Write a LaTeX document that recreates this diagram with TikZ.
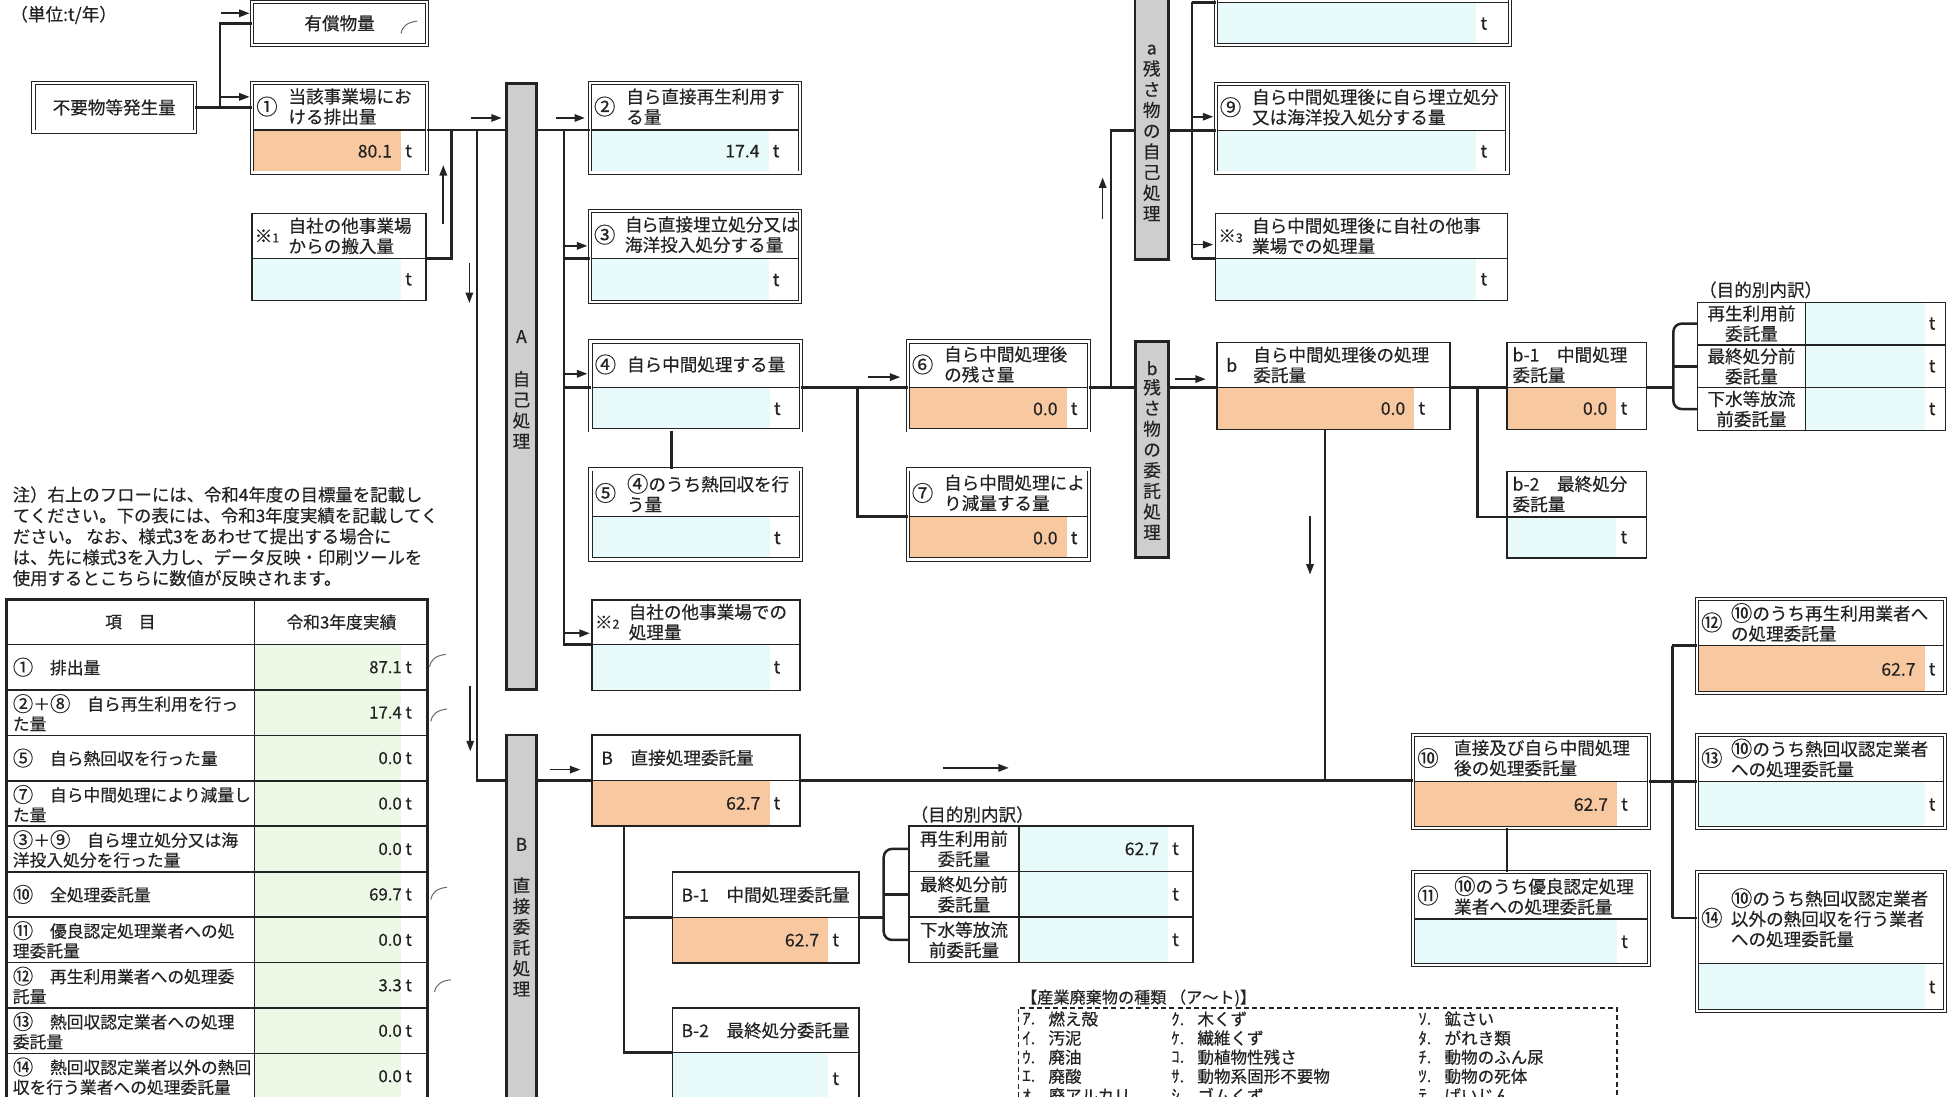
\documentclass[tikz,border=0pt]{standalone}
\usepackage{fontspec}
\setmainfont{Noto Sans CJK JP}[FakeBold=0.4]
\usetikzlibrary{arrows.meta}
\usetikzlibrary{calc, fit}
\definecolor{linie}{RGB}{35,35,35}
\definecolor{orangefill}{RGB}{248,201,161}
\definecolor{cyanfill}{RGB}{232,250,250}
\definecolor{gruenfill}{RGB}{237,248,231}
\definecolor{balken}{RGB}{206,206,206}
\definecolor{haken}{RGB}{110,110,110}

% box: name, frame, x1, y1, x2, y2, split, fill right, fill colour
\newcommand{\qbox}[9]{%
  \fill[#9] (#3,#7) rectangle (#8,#6);
  \draw[splitline] (#3,#7) -- (#5,#7);
  \node[#2, fit={(#3,#4) (#5,#6)}] (#1) {};
  \coordinate (#1-l) at (#3,#7);
  \coordinate (#1-r) at (#5,#7);
  \coordinate (#1-h) at ($(#3,#4)!0.5!(#3,#7)$);
  \coordinate (#1-v) at ($(#8,#7)!0.5!(#8,#6)$);
  \node[unit] at ($(#1-v)+(6,0)$) {t};
}
\newcommand{\qhead}[4][29]{%
  \node[inner sep=0pt] at ($(#2-h)+(12,0)$) {#3};
  \node[hdr, anchor=west] at ($(#2-h)+(#1,0)$) {#4};
}
\newcommand{\qval}[2]{\node[val] at ($(#1-v)+(-7,0)$) {#2};}
\newcommand{\kome}[1]{※{\fontsize{6}{6}\selectfont #1}}
\newcommand{\cn}[1]{\raisebox{-0.06em}{\scalebox{1.22}{#1}}}
\newcommand{\hakenmark}[2]{\draw[haken, line width=0.5pt] (#1,#2) .. controls ({#1+1},{#2-6}) and ({#1+5},{#2-9}) .. ({#1+13},{#2-10});}
% breakdown table: name, x1, y1, xm, x2, y2, fill right
\newcommand{\bdtab}[7]{%
  \pgfmathsetmacro\rh{(#6-#3)/3}
  \fill[cyanfill] (#4,#3) rectangle (#7,#6);
  \draw[splitline] (#2,{#3+\rh}) -- (#5,{#3+\rh});
  \draw[splitline] (#2,{#3+2*\rh}) -- (#5,{#3+2*\rh});
  \draw[splitline] (#4,#3) -- (#4,#6);
  \draw[splitline] (#2,#3) rectangle (#5,#6);
  \coordinate (#1-1) at (#2,{#3+0.5*\rh});
  \coordinate (#1-2) at (#2,{#3+1.5*\rh});
  \coordinate (#1-3) at (#2,{#3+2.5*\rh});
  \coordinate (#1-v1) at (#7,{#3+0.5*\rh});
  \node[hdr, align=center] at ({(#2+#4)/2},{#3+0.5*\rh}) {再生利用前\\委託量};
  \node[hdr, align=center] at ({(#2+#4)/2},{#3+1.5*\rh}) {最終処分前\\委託量};
  \node[hdr, align=center] at ({(#2+#4)/2},{#3+2.5*\rh}) {下水等放流\\前委託量};
  \node[unit] at ({#7+6},{#3+0.5*\rh}) {t};
  \node[unit] at ({#7+6},{#3+1.5*\rh}) {t};
  \node[unit] at ({#7+6},{#3+2.5*\rh}) {t};
}

\begin{document}
\begin{tikzpicture}[x=0.6pt, y=-0.6pt, linie, font=\fontsize{8.5}{9.8}\selectfont,
  conn/.style={draw=linie, line width=1.2pt},
  flow/.style={draw=linie, line width=0.8pt, -{Stealth[inset=0pt, length=5pt, width=3.6pt]}},
  dbl/.style={draw=linie, line width=0.45pt, double=white, double distance=1.1pt, inner sep=0pt},
  sgl/.style={draw=linie, line width=0.8pt, inner sep=0pt},
  splitline/.style={draw=linie, line width=0.7pt},
  gbar/.style={fill=balken, draw=linie, line width=1.3pt, inner sep=0pt},
  hdr/.style={align=left, inner sep=0pt},
  val/.style={anchor=east, inner sep=0pt},
  unit/.style={inner sep=0pt},
  bartxt/.style={align=center, inner sep=0pt, font=\fontsize{8.5}{10}\selectfont},
  tab/.style={inner sep=0pt, font=\fontsize{8.1}{9.6}\selectfont},
  tablab/.style={tab, anchor=west, align=left},
  tabval/.style={tab, anchor=east},
  tabline/.style={draw=linie, line width=0.8pt},
  legend/.style={anchor=west, inner sep=0pt, font=\fontsize{8}{9}\selectfont}]

\useasboundingbox (0,0) rectangle (1568,883);
\clip (0,0) rectangle (1568,883);

\node[anchor=west, inner sep=0pt] (einheit) at (8,12) {（単位:t/年）};

% start
\node[dbl, fit={(203,1.5) (344,36)}, label={center:有償物量}] (yusho) {};
\node[dbl, fit={(27,67) (157,106)}, label={center:不要物等発生量}] (hassei) {};
\qbox{n1}{dbl}{203}{67}{344}{139}{104.6}{323}{orangefill}
\qhead{n1}{\cn{①}}{当該事業場にお\\ける排出量}
\qval{n1}{80.1}
\qbox{s1}{sgl}{203}{172}{343}{242}{208}{323}{cyanfill}
\qhead{s1}{\kome{1}}{自社の他事業場\\からの搬入量}

% A self treatment
\qbox{n2}{dbl}{475}{67}{644}{139}{104.6}{619}{cyanfill}
\qhead{n2}{\cn{②}}{自ら直接再生利用す\\る量}
\qval{n2}{17.4}
\qbox{n3}{dbl}{475}{170}{644}{243}{208}{619}{cyanfill}
\qhead[28]{n3}{\cn{③}}{\addfontfeature{RawFeature=+palt}自ら直接埋立処分又は\\海洋投入処分する量}
\qbox{n4}{dbl}{475.6}{275}{645}{346.6}{312}{620}{cyanfill}
\qhead{n4}{\cn{④}}{自ら中間処理する量}
\qbox{n5}{dbl}{475.6}{378}{645}{450.6}{416}{620}{cyanfill}
\qhead{n5}{\cn{⑤}}{\cn{④}のうち熱回収を行\\う量}
\qbox{s2}{sgl}{477}{483}{644}{556}{519}{619.7}{cyanfill}
\qhead{s2}{\kome{2}}{自社の他事業場での\\処理量}
\qbox{n6}{dbl}{731}{275}{877}{346.6}{312}{859}{orangefill}
\qhead{n6}{\cn{⑥}}{自ら中間処理後\\の残さ量}
\qval{n6}{0.0}
\qbox{n7}{dbl}{731}{378}{877}{450.6}{416}{859}{orangefill}
\qhead{n7}{\cn{⑦}}{自ら中間処理によ\\り減量する量}
\qval{n7}{0.0}

% a residues, self
\qbox{n8}{dbl}{979}{-40}{1216}{36}{2}{1189}{cyanfill}
\qbox{n9}{dbl}{979}{67.6}{1214}{139}{105}{1189}{cyanfill}
\qhead{n9}{\cn{⑨}}{自ら中間処理後に自ら埋立処分\\又は海洋投入処分する量}
\qbox{s3}{sgl}{979}{172}{1214}{242}{208}{1189}{cyanfill}
\qhead{s3}{\kome{3}}{自ら中間処理後に自社の他事\\業場での処理量}

% b residues, contracted
\qbox{nb}{sgl}{980}{275.8}{1167.5}{346}{312}{1139}{orangefill}
\qhead{nb}{b}{自ら中間処理後の処理\\委託量}
\qval{nb}{0.0}
\qbox{nb1}{sgl}{1213.8}{275.8}{1326}{346}{312}{1301.8}{orangefill}
\qhead[4]{nb1}{}{b-1　中間処理\\委託量}
\qval{nb1}{0.0}
\qbox{nb2}{sgl}{1213.8}{379.6}{1326}{449.3}{416.3}{1301.8}{cyanfill}
\qhead[4]{nb2}{}{b-2　最終処分\\委託量}
\bdtab{bd1}{1367}{243.4}{1454}{1566.6}{346.6}{1550}
\node[anchor=west, inner sep=0pt] (zweck1) at (1368,233.4) {（目的別内訳）};

% B direct contract
\qbox{nB}{sgl}{477}{592}{644}{665.3}{628.6}{619.7}{orangefill}
\qhead[7]{nB}{}{B　直接処理委託量}
\qval{nB}{62.7}
\qbox{nB1}{sgl}{541.5}{702.3}{691.6}{775.3}{739}{667}{orangefill}
\qhead[7]{nB1}{}{B-1　中間処理委託量}
\qval{nB1}{62.7}
\qbox{nB2}{sgl}{541.5}{812}{691.6}{890}{847.7}{667}{cyanfill}
\qhead[7]{nB2}{}{B-2　最終処分委託量}
\bdtab{bd2}{731.9}{665.3}{820.7}{960.7}{775.3}{940.7}
\node[val] at ($(bd2-v1)+(-7,0)$) {62.7};
\node[anchor=west, inner sep=0pt] (zweck2) at (733,656) {（目的別内訳）};

% totals
\qbox{n10}{dbl}{1138}{591.7}{1328}{666.7}{629.2}{1302.3}{orangefill}
\qhead[32.7]{n10}{\cn{⑩}}{直接及び自ら中間処理\\後の処理委託量}
\qval{n10}{62.7}
\qbox{n11}{dbl}{1138}{702.4}{1328}{777.2}{740}{1302.3}{cyanfill}
\qhead[32.7]{n11}{\cn{⑪}}{\cn{⑩}のうち優良認定処理\\業者への処理委託量}
\qbox{n12}{dbl}{1366.6}{482.5}{1566.6}{558.2}{520}{1550}{orangefill}
\qhead[27]{n12}{\cn{⑫}}{\cn{⑩}のうち再生利用業者へ\\の処理委託量}
\qval{n12}{62.7}
\qbox{n13}{dbl}{1366.6}{591.7}{1566.6}{666.7}{629.2}{1550}{cyanfill}
\qhead[27]{n13}{\cn{⑬}}{\cn{⑩}のうち熱回収認定業者\\への処理委託量}
\qbox{n14}{dbl}{1366.6}{702.4}{1566.6}{814.2}{775.8}{1550}{cyanfill}
\qhead[27]{n14}{\cn{⑭}}{\cn{⑩}のうち熱回収認定業者\\以外の熱回収を行う業者\\への処理委託量}

% junctions
\coordinate (j0) at (177,86.5);
\coordinate (j1) at (363.5,104.6);
\coordinate (j2) at (384,104.6);
\coordinate (jA) at (454,104.6);
\coordinate (j67) at (690.7,312);
\coordinate (ja) at (894.6,312);
\coordinate (jaa) at (960,105);
\coordinate (jb) at (1067,628.6);
\coordinate (jb12) at (1190,312);
\coordinate (jB) at (502.4,739);
\coordinate (j1014) at (1346.8,629.2);
\coordinate (br1) at (1347.6,312);
\coordinate (br2) at (711.7,739);

% connectors
\draw[conn] (hassei.east) -- (hassei.east -| n1.west);
\draw[conn] (j0) |- (yusho.west);
\draw[conn] (n1-r) -- (n2-l);
\draw[conn] (s1-r) -| (j1);
\draw[conn] (j2) |- (nB-l);
\draw[conn] (jA) |- (s2-l);
\draw[conn] (jA |- n3-l) -- (n3-l);
\draw[conn] (jA |- n4-l) -- (n4-l);
\draw[conn] ($(n4.south)+(-19.5,0)$) -- ($(n5.north)+(-19.5,0)$);
\draw[conn] (n4-r) -- (n6-l);
\draw[conn] (j67) |- (n7-l);
\draw[conn] (n6-r) -- (nb-l);
\draw[conn] (ja) |- (n9-l);
\draw[conn] (jaa |- n8-l) -- (jaa |- s3-l);
\draw[conn] (jaa |- n8-l) -- (n8-l);
\draw[conn] (jaa |- s3-l) -- (s3-l);
\draw[conn] (nb-r) -- (nb1-l);
\draw[conn] (jb12) |- (nb2-l);
\draw[conn] (nb1-r) -- (br1);
\draw[conn, rounded corners=4pt] (bd1-1) -| (br1) |- (bd1-3);
\draw[conn] (br1 |- bd1-2) -- (bd1-2);
\draw[conn] (nb.south -| jb) -- (jb);
\draw[conn] (nB-r) -- (nB-r -| n10.west);
\draw[conn] (nB.south -| jB) |- (nB2-l);
\draw[conn] (jB) -- (nB1-l);
\draw[conn] (nB1-r) -- (br2);
\draw[conn, rounded corners=4pt] (bd2-1) -| (br2) |- (bd2-3);
\draw[conn] (br2 |- bd2-2) -- (bd2-2);
\draw[conn] (n10-r) -- (n13-l);
\draw[conn] (j1014 |- n12-l) -- (j1014 |- n14-h);
\draw[conn] (j1014 |- n12-l) -- (n12-l);
\draw[conn] (j1014 |- n14-h) -- (n14-h);
\draw[conn] ($(n10.south)+(-19.5,0)$) -- ($(n11.north)+(-19.5,0)$);

% direction arrows
\draw[flow] (178,10.7) -- (201,10.7);
\draw[flow] (178,78) -- (201,78);
\draw[flow] (357,180) -- (357,133);
\draw[flow] (378,212) -- (378,244);
\draw[flow] (379,95) -- (404,95);
\draw[flow] (448,95) -- (471,95);
\draw[flow] (454,198) -- (473,198);
\draw[flow] (454,301) -- (473,301);
\draw[flow] (454,510) -- (475,510);
\draw[flow] (699,303.7) -- (725,303.7);
\draw[flow] (888,176) -- (888,143);
\draw[flow] (960,94) -- (977,94);
\draw[flow] (960,197) -- (977,197);
\draw[flow] (946.5,305.3) -- (971,305.3);
\draw[flow] (1055,415.8) -- (1055,462.7);
\draw[flow] (378.7,552.7) -- (378.7,605);
\draw[flow] (442.8,619.8) -- (467.3,619.8);
\draw[flow] (759.2,618.4) -- (812.4,618.4);

% grey bars
\node[gbar, fit={(407.7,67.5) (432.2,555.4)}] (barA) {};
\node[gbar, fit={(407.7,592) (432.2,900)}] (barB) {};
\node[gbar, fit={(914,-10) (941,209)}] (bara) {};
\node[gbar, fit={(914.6,275) (941,449)}] (barb) {};
\node[bartxt] at (barA |- 0,271) {A};
\node[bartxt] at (barA |- 0,330) {自\\己\\処\\理};
\node[bartxt] at (barB |- 0,680) {B};
\node[bartxt] at (barB |- 0,754.5) {直\\接\\委\\託\\処\\理};
\node[bartxt] at (bara |- 0,40) {a};
\node[bartxt] at (bara |- 0,113.3) {残\\さ\\物\\の\\自\\己\\処\\理};
\node[bartxt] at (barb |- 0,296.5) {b};
\node[bartxt] at (barb |- 0,370) {残\\さ\\物\\の\\委\\託\\処\\理};

% note
\node[anchor=west, align=left, inner sep=0pt, font=\fontsize{8.4}{10.1}\selectfont] (hinweis) at (10,431.9)
  {注）右上のフローには、令和4年度の目標量を記載し\\てください。下の表には、令和3年度実績を記載してく\\ださい。 なお、様式3をあわせて提出する場合に\\は、先に様式3を入力し、データ反映・印刷ツールを\\使用するとこちらに数値が反映されます。};

% table of results
\fill[gruenfill] (205,519) rectangle (323,890);
\draw[tabline] (205,483) -- (205,890);
\foreach \yy in {519,555.6,592.2,628.8,665.4,702,738.6,775.2,811.8,848.4}
  \draw[tabline] (5.4,\yy) -- (344.5,\yy);
\draw[linie, line width=1.3pt] (5.4,890) -- (5.4,483) -- (344.5,483) -- (344.5,890);
\node[tab] (kopf1) at (105,501) {項　目};
\node[tab] (kopf2) at (275,501) {令和3年度実績};
\node[tablab] (zeile1) at (10,537.3) {\cn{①}　排出量};
\node[tablab] (zeile2) at (10,573.9) {\cn{②}＋\cn{⑧}　自ら再生利用を行っ\\た量};
\node[tablab] (zeile3) at (10,610.5) {\cn{⑤}　自ら熱回収を行った量};
\node[tablab] (zeile4) at (10,647.1) {\cn{⑦}　自ら中間処理により減量し\\た量};
\node[tablab] (zeile5) at (10,683.7) {\cn{③}＋\cn{⑨}　自ら埋立処分又は海\\洋投入処分を行った量};
\node[tablab] (zeile6) at (10,720.3) {\cn{⑩}　全処理委託量};
\node[tablab] (zeile7) at (10,756.9) {\cn{⑪}　優良認定処理業者への処\\理委託量};
\node[tablab] (zeile8) at (10,793.5) {\cn{⑫}　再生利用業者への処理委\\託量};
\node[tablab] (zeile9) at (10,830.1) {\cn{⑬}　熱回収認定業者への処理\\委託量};
\node[tablab] (zeile10) at (10,866.7) {\cn{⑭}　熱回収認定業者以外の熱回\\収を行う業者への処理委託量};
\node[tabval] (wert1) at (332,537.3) {87.1 t};
\node[tabval] (wert2) at (332,573.9) {17.4 t};
\node[tabval] (wert3) at (332,610.5) {0.0 t};
\node[tabval] (wert4) at (332,647.1) {0.0 t};
\node[tabval] (wert5) at (332,683.7) {0.0 t};
\node[tabval] (wert6) at (332,720.3) {69.7 t};
\node[tabval] (wert7) at (332,756.9) {0.0 t};
\node[tabval] (wert8) at (332,793.5) {3.3 t};
\node[tabval] (wert9) at (332,830.1) {0.0 t};
\node[tabval] (wert10) at (332,866.7) {0.0 t};

% hand marks
\hakenmark{323}{27}
\hakenmark{346}{537}
\hakenmark{347}{581}
\hakenmark{347}{724.5}
\hakenmark{350}{799}

% legend
\node[legend, font=\fontsize{7.8}{9}\selectfont] (legtitel) at (822,803.7) {【産業廃棄物の種類 （ア～ト)】};
\draw[linie, line width=0.6pt, dash pattern=on 2.4pt off 1.6pt] (820,890) -- (820,811.7) -- (1302.3,811.7) -- (1302.3,890);
\foreach \x/\y/\kn/\lab in {823/820.6/ｱ./燃え殻, 823/836/ｲ./汚泥, 823/851.4/ｳ./廃油, 823/866.8/ｴ./廃酸, 823/882.2/ｵ./廃アルカリ,
    943/820.6/ｸ./木くず, 943/836/ｹ./繊維くず, 943/851.4/ｺ./動植物性残さ, 943/866.8/ｻ./動物系固形不要物, 943/882.2/ｼ./ゴムくず,
    1142/820.6/ｿ./鉱さい, 1142/836/ﾀ./がれき類, 1142/851.4/ﾁ./動物のふん尿, 1142/866.8/ﾂ./動物の死体, 1142/882.2/ﾃ./ばいじん} {
  \node[legend] at (\x,\y) {\kn};
  \node[legend] at ({\x+21},\y) {\lab};
}

\end{tikzpicture}
\end{document}
